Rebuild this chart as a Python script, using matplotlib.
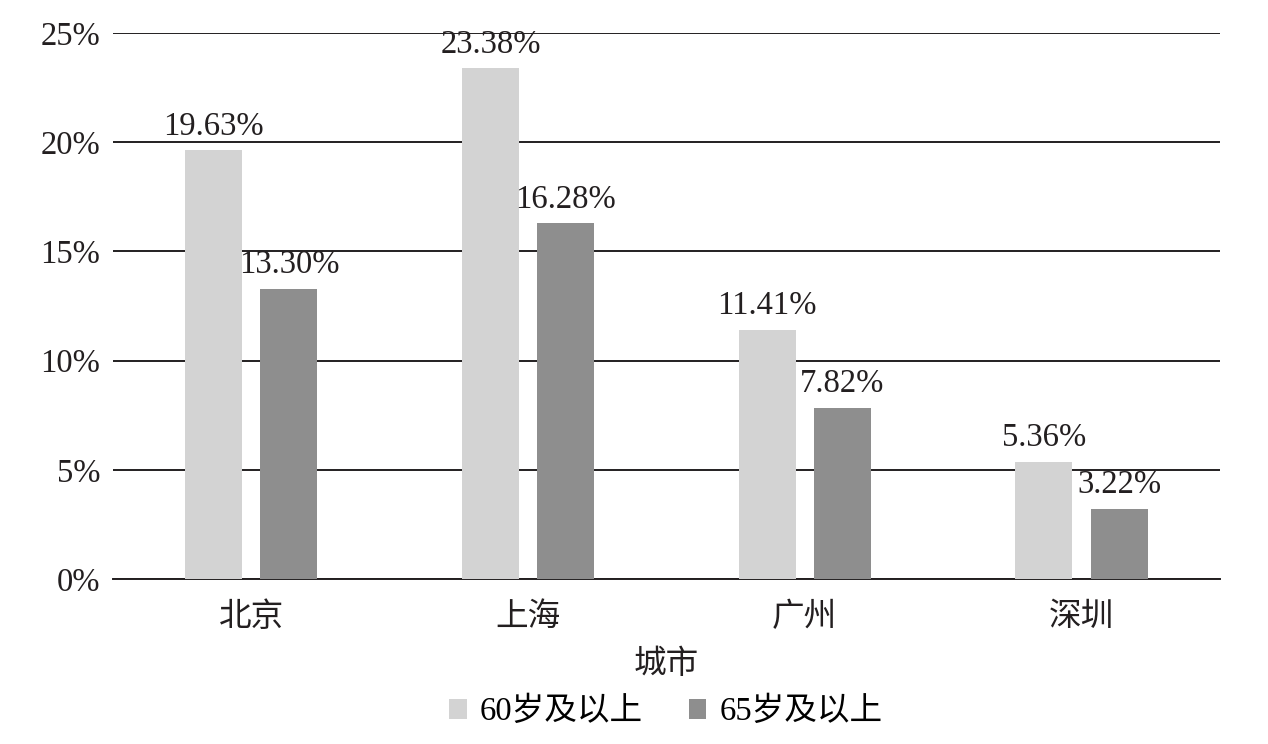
import numpy as np
import matplotlib
matplotlib.use('Agg')
import matplotlib.pyplot as plt

plt.rcParams['font.family'] = ['Liberation Serif', 'Noto Sans CJK SC']

cities = ['北京', '上海', '广州', '深圳']
age60 = [19.63, 23.38, 11.41, 5.36]
age65 = [13.30, 16.28, 7.82, 3.22]
series_names = ['60岁及以上', '65岁及以上']

fs = 23.5
fig = plt.figure(figsize=(12.68, 7.44), dpi=100)
ax = fig.add_axes([0.0891, 0.2218, 0.8729, 0.7338])

x = np.arange(len(cities))
width = 0.206
off = 0.136
b1 = ax.bar(x - off, age60, width, color='#d3d3d3', label=series_names[0], zorder=3)
b2 = ax.bar(x + off, age65, width, color='#8e8e8e', label=series_names[1], zorder=3)

for bars, vals in [(b1, age60), (b2, age65)]:
    for b, v in zip(bars, vals):
        ax.text(b.get_x() + b.get_width() / 2, v + 0.4, f'{v:.2f}%',
                ha='center', va='bottom', fontsize=fs, color='#231f20', zorder=4)

ax.set_xlim(-0.5, 3.5)
ax.set_ylim(0, 25)
ax.set_yticks(np.arange(0, 26, 5))
ax.set_yticklabels([f'{v}%' for v in range(0, 26, 5)])
ax.set_xticks(x)
ax.set_xticklabels(cities)
ax.tick_params(axis='both', length=0, labelsize=fs, colors='#231f20')
ax.tick_params(axis='y', pad=9)
ax.tick_params(axis='x', pad=17)
ax.grid(axis='y', color='#231f20', linewidth=1.4, zorder=0)
for s in ['left', 'right', 'top']:
    ax.spines[s].set_visible(False)
ax.spines['bottom'].set_color('#231f20')
ax.spines['bottom'].set_linewidth(1.4)

ax.set_xlabel('城市', fontsize=fs, color='#231f20', labelpad=12)

fig.legend(handles=[b1, b2], labels=series_names, loc='center',
           bbox_to_anchor=(0.525, 0.043), ncol=2, frameon=False,
           fontsize=fs, handlelength=0.55, handleheight=0.55,
           handletextpad=0.4, columnspacing=1.4)

fig.savefig('out.png', dpi=100)
